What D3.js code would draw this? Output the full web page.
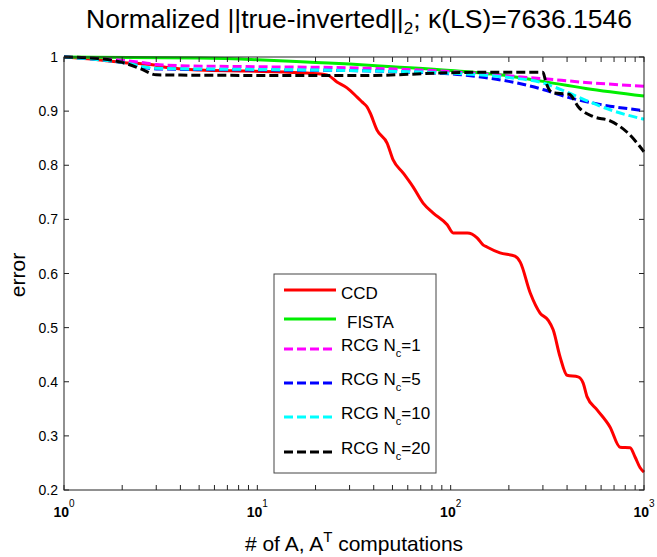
<!DOCTYPE html>
<html><head><meta charset="utf-8">
<script src="https://cdn.jsdelivr.net/npm/d3@7"></script>
<style>body{margin:0;background:#fff}svg{display:block}text{font-family:"Liberation Sans",Arial,sans-serif}</style>
</head><body><svg id="c" width="657" height="557"></svg>
<script>
// ---- data ----
const ccdX = [1,1.5,2,2.8,3.5,5,9,16.6,22.9,25.8,29.1,32.8,34.8,36.9,38.3,41.6,46.9,50.4,56.7,63.9,72,81,96,103,122,137,147,154,180,215,229,258,290,319,339,368,400,456,484,508,572,668,752,847,899,955,1000];
const ccdY = [1,0.995,0.99,0.986,0.98,0.976,0.974,0.971,0.967,0.954,0.943,0.926,0.917,0.908,0.897,0.865,0.841,0.810,0.786,0.760,0.730,0.712,0.690,0.675,0.675,0.666,0.653,0.649,0.638,0.632,0.621,0.564,0.527,0.514,0.496,0.446,0.412,0.409,0.398,0.372,0.348,0.316,0.279,0.278,0.261,0.241,0.233];
const fistaX = [1,5,10,20,30,50,100,200,300,500,1000];
const fistaY = [1,0.998,0.995,0.99,0.987,0.982,0.975,0.965,0.955,0.942,0.928];
const rcg1X = [1,1.5,2,2.5,3,4,10,30,100,200,300,500,1000];
const rcg1Y = [1,0.997,0.994,0.99,0.986,0.984,0.982,0.98,0.973,0.965,0.96,0.953,0.946];
const rcg5X = [1,2,3,10,30,60,100,150,200,300,400,600,1000];
const rcg5Y = [1,0.99,0.978,0.976,0.975,0.972,0.969,0.962,0.955,0.94,0.926,0.912,0.901];
const rcg10X = [1,2,3,10,30,100,200,300,400,500,700,1000];
const rcg10Y = [1,0.99,0.979,0.977,0.975,0.97,0.962,0.952,0.935,0.92,0.9,0.885];
const rcg20X = [1,1.5,2,2.5,3,10,40,60,100,200,300,310,335,410,462,545,668,818,1000];
const rcg20Y = [1,0.997,0.99,0.978,0.967,0.966,0.966,0.968,0.971,0.972,0.972,0.955,0.934,0.931,0.906,0.89,0.882,0.861,0.825];
const yTicks = [0.2,0.3,0.4,0.5,0.6,0.7,0.8,0.9,1];
const yTickLabels = ["0.2","0.3","0.4","0.5","0.6","0.7","0.8","0.9","1"];
const xTicks = [1,10,100,1000];
const xTickExps = ["0","1","2","3"];
const seriesNames = ["CCD","FISTA","RCG N_c=1","RCG N_c=5","RCG N_c=10","RCG N_c=20"];
const seriesColors = ["#ff0000","#00ee00","#ff00ff","#0000ff","#00ffff","#000000"];

const series = [
  {x:ccdX,y:ccdY,name:seriesNames[0],color:seriesColors[0],dash:null},
  {x:fistaX,y:fistaY,name:seriesNames[1],color:seriesColors[1],dash:null},
  {x:rcg1X,y:rcg1Y,name:seriesNames[2],color:seriesColors[2],dash:"9,4"},
  {x:rcg5X,y:rcg5Y,name:seriesNames[3],color:seriesColors[3],dash:"9,4"},
  {x:rcg10X,y:rcg10Y,name:seriesNames[4],color:seriesColors[4],dash:"9,4"},
  {x:rcg20X,y:rcg20Y,name:seriesNames[5],color:seriesColors[5],dash:"9,4"}
];

const svg = d3.select("#c");
const L=64,R=644,T=57,B=490;
const x = d3.scaleLog().domain([1,1000]).range([L,R]);
const y = d3.scaleLinear().domain([0.2,1]).range([B,T]);
const axisColor="#222";

// lines
const line = d3.line().x(d=>x(d[0])).y(d=>y(d[1])).curve(d3.curveMonotoneX);
svg.append("defs").append("clipPath").attr("id","clip").append("rect")
  .attr("x",L).attr("y",T-2).attr("width",R-L+2).attr("height",B-T+4);
const g = svg.append("g").attr("clip-path","url(#clip)");
series.forEach(s=>{
  g.append("path").datum(s.x.map((v,i)=>[v,s.y[i]]))
   .attr("d",line).attr("fill","none").attr("stroke",s.color)
   .attr("stroke-width",3).attr("stroke-dasharray",s.dash)
   .attr("stroke-linejoin","round");
});

// axes frame
svg.append("rect").attr("x",L).attr("y",T).attr("width",R-L).attr("height",B-T)
  .attr("fill","none").attr("stroke",axisColor).attr("stroke-width",1);

// y ticks
const tl=5;
yTicks.forEach((t,i)=>{
  svg.append("line").attr("x1",L).attr("x2",L+tl).attr("y1",y(t)).attr("y2",y(t)).attr("stroke",axisColor);
  svg.append("line").attr("x1",R).attr("x2",R-tl).attr("y1",y(t)).attr("y2",y(t)).attr("stroke",axisColor);
  svg.append("text").attr("x",L-6).attr("y",y(t)+5).attr("text-anchor","end")
    .attr("font-size",14).text(yTickLabels[i]);
});
// x ticks (major + minor)
const allX = [];
for(let d=1; d<1000; d*=10) for(let k=1;k<10;k++) allX.push(d*k);
allX.push(1000);
allX.forEach(t=>{
  svg.append("line").attr("x1",x(t)).attr("x2",x(t)).attr("y1",B).attr("y2",B-tl).attr("stroke",axisColor);
  svg.append("line").attr("x1",x(t)).attr("x2",x(t)).attr("y1",T).attr("y2",T+tl).attr("stroke",axisColor);
});
xTicks.forEach((t,i)=>{
  const tx = svg.append("text").attr("x",x(t)).attr("y",517).attr("text-anchor","middle").attr("font-size",14).attr("font-weight","bold");
  tx.append("tspan").text("10");
  tx.append("tspan").attr("dy",-10).attr("font-size",10).attr("font-weight","normal").text(xTickExps[i]);
});

// title
const title = svg.append("text").attr("x",359).attr("y",28).attr("text-anchor","middle").attr("font-size",26.5);
title.append("tspan").text("Normalized ||true-inverted||");
title.append("tspan").attr("font-size",17).attr("dy",6).text("2");
title.append("tspan").attr("dy",-6).text("; \u03ba(LS)=7636.1546");

// axis labels
svg.append("text").attr("transform","translate(25,275) rotate(-90)").attr("text-anchor","middle")
  .attr("font-size",21).text("error");
const xl = svg.append("text").attr("x",354).attr("y",551).attr("text-anchor","middle").attr("font-size",21);
xl.append("tspan").text("# of A, A");
xl.append("tspan").attr("dy",-9).attr("font-size",15).text("T");
xl.append("tspan").attr("dy",9).text(" computations");

// legend
const lg = svg.append("g");
lg.append("rect").attr("x",274).attr("y",274).attr("width",162).attr("height",199)
  .attr("fill","#fff").attr("stroke","#444").attr("stroke-width",1);
const legY = [290,319,349,383,417,452];
series.forEach((s,i)=>{
  lg.append("line").attr("x1",284).attr("x2",336).attr("y1",legY[i]).attr("y2",legY[i])
    .attr("stroke",s.color).attr("stroke-width",3).attr("stroke-dasharray",s.dash);
  const parts = s.name.split("_");
  const t = lg.append("text").attr("x",i===1?347:341).attr("y",legY[i]+(i<2?9:2)).attr("font-size",17);
  if(parts.length===1){ t.text(parts[0]); }
  else {
    const rest = parts[1]; // "c=1"
    t.append("tspan").text(parts[0]);
    t.append("tspan").attr("dy",6).attr("font-size",11).text(rest[0]);
    t.append("tspan").attr("dy",-6).text(rest.slice(1));
  }
});
</script></body></html>
